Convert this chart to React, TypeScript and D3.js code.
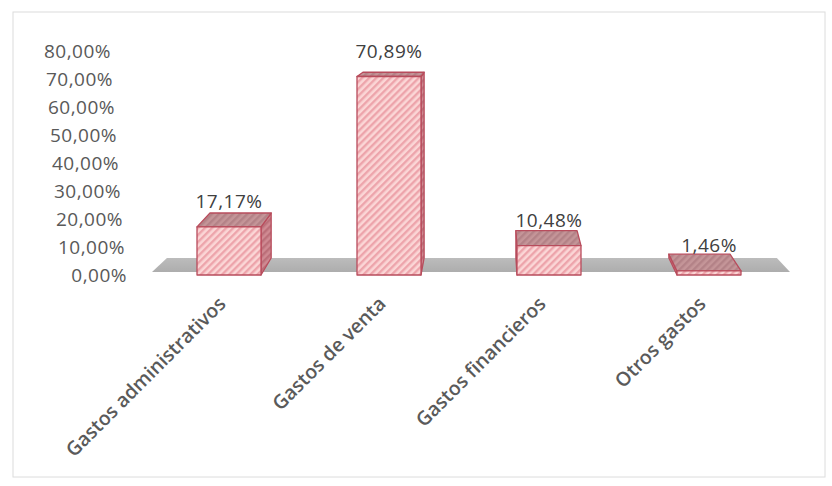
import React from "react";
import * as d3 from "d3";

const categories = ["Gastos administrativos", "Gastos de venta", "Gastos financieros", "Otros gastos"];
const values = [17.17, 70.89, 10.48, 1.46];
const valueLabels = ["17,17%", "70,89%", "10,48%", "1,46%"];
const yTicks = [0, 10, 20, 30, 40, 50, 60, 70, 80];
const yTickLabels = ["0,00%", "10,00%", "20,00%", "30,00%", "40,00%", "50,00%", "60,00%", "70,00%", "80,00%"];

const W = 832;
const H = 486;

export default function App() {
  // front plane and back plane value scales (3D perspective)
  const yFront = d3.scaleLinear().domain([0, 80]).range([275, 51]);
  const yBack = d3.scaleLinear().domain([0, 80]).range([258, 48.4]);
  const xBand = d3.scaleBand<string>().domain(categories).range([149, 789]).paddingInner(0.6).paddingOuter(0.3);
  const labelRight = d3.scaleLinear().domain([0, 80]).range([127, 111]);
  const vx = 492;
  const s = 0.956;
  const backX = (fx: number) => vx + (fx - vx) * s;

  const pt = (p: [number, number][]) => p.map((q) => q.join(",")).join(" ");

  const floorFront: [number, number] = [152, 790];
  const fy0 = 272;
  const by0 = yBack(0);

  const font = "'Open Sans', 'DejaVu Sans', sans-serif";

  return (
    <svg width={W} height={H} style={{ position: "absolute", left: 0, top: 0, background: "#fff" }}>
      <defs>
        <pattern id="hFront" patternUnits="userSpaceOnUse" width="5" height="5" patternTransform="rotate(45)">
          <rect width="5" height="5" fill="#fbd6d6" />
          <rect width="2.4" height="5" fill="#eda4ab" />
        </pattern>
        <pattern id="hTop" patternUnits="userSpaceOnUse" width="5" height="5" patternTransform="rotate(45)">
          <rect width="5" height="5" fill="#c49598" />
          <rect width="2.4" height="5" fill="#b38287" />
        </pattern>
        <pattern id="hSide" patternUnits="userSpaceOnUse" width="5" height="5" patternTransform="rotate(45)">
          <rect width="5" height="5" fill="#cf8a92" />
          <rect width="2.4" height="5" fill="#bb6f79" />
        </pattern>
        <linearGradient id="floorG" x1="0" y1="0" x2="0" y2="1">
          <stop offset="0" stopColor="#bcbcbc" />
          <stop offset="1" stopColor="#adadad" />
        </linearGradient>
      </defs>
      <rect x={13} y={12} width={812} height={465} fill="#fff" stroke="#dcdcdc" strokeWidth={1} />

      {/* floor */}
      <polygon
        points={pt([
          [floorFront[0], fy0],
          [floorFront[1], fy0],
          [backX(floorFront[1]), by0],
          [backX(floorFront[0]), by0],
        ])}
        fill="url(#floorG)"
      />

      {/* y axis labels */}
      {yTicks.map((t, i) => (
        <text
          key={t}
          x={labelRight(t)}
          y={yFront(t)}
          dy="0.36em"
          textAnchor="end"
          fontFamily={font}
          fontSize={19}
          letterSpacing={0.5}
          fill="#595959"
        >
          {yTickLabels[i]}
        </text>
      ))}

      {/* bars */}
      {categories.map((c, i) => {
        const v = values[i];
        const x0 = xBand(c)!;
        const x1 = x0 + xBand.bandwidth();
        const fTop = yFront(v);
        const fBot = yFront(0);
        const bTop = yBack(v);
        const bx0 = backX(x0);
        const bx1 = backX(x1);
        const right = bx1 > x1;
        const side: [number, number][] = right
          ? [[x1, fTop], [bx1, bTop], [bx1, by0], [x1, fBot]]
          : [[x0, fTop], [bx0, bTop], [bx0, by0], [x0, fBot]];
        return (
          <g key={c} stroke="#b84c5c" strokeWidth={1.3} strokeLinejoin="round">
            <polygon points={pt(side)} fill="url(#hSide)" />
            <polygon points={pt([[x0, fTop], [x1, fTop], [bx1, bTop], [bx0, bTop]])} fill="url(#hTop)" />
            <rect x={x0} y={fTop} width={x1 - x0} height={fBot - fTop} fill="url(#hFront)" />
          </g>
        );
      })}

      {/* data labels */}
      {categories.map((c, i) => (
        <text
          key={c}
          x={xBand(c)! + xBand.bandwidth() / 2}
          y={yFront(values[i]) - 19}
          textAnchor="middle"
          fontFamily={font}
          fontSize={19}
          letterSpacing={0.5}
          fill="#404040"
        >
          {valueLabels[i]}
        </text>
      ))}

      {/* category labels */}
      {categories.map((c) => {
        const cx = xBand(c)! + xBand.bandwidth() / 2;
        return (
          <text
            key={c}
            transform={`translate(${cx - 2},${305}) rotate(-45)`}
            textAnchor="end"
            fontFamily={font}
            fontSize={19.5}
            fontWeight={600}
            fill="#5a5a5a"
          >
            {c}
          </text>
        );
      })}
    </svg>
  );
}
